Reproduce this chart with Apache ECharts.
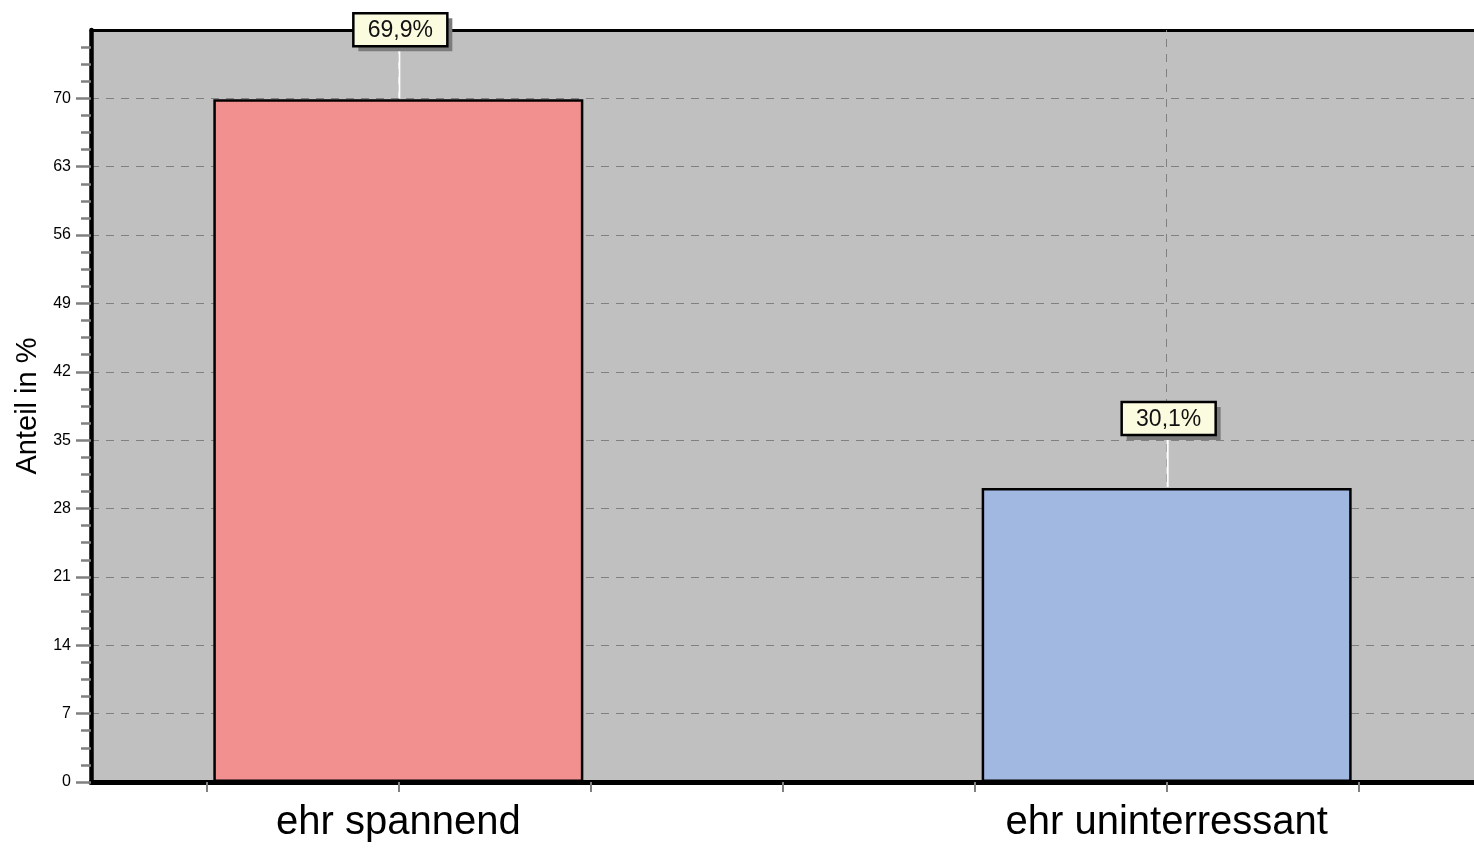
<!DOCTYPE html>
<html>
<head>
<meta charset="utf-8">
<script src="https://cdn.jsdelivr.net/npm/echarts@6/dist/echarts.min.js"></script>
<style>
html,body{margin:0;padding:0;background:#fff;}
#chart{width:1474px;height:848px;}
</style>
</head>
<body>
<div id="chart"></div>
<script>
const categories = ['ehr spannend', 'ehr uninterressant'];
const categoryPositions = [1, 2];
const values = [69.9, 30.1];
const valueLabels = ['69,9%', '30,1%'];
const barColors = ['#f29090', '#a1b8e0'];
const yMajorTicks = [0, 7, 14, 21, 28, 35, 42, 49, 56, 63, 70];
const yMinorTicks = [1.75, 3.5, 5.25, 8.75, 10.5, 12.25, 15.75, 17.5, 19.25, 22.75, 24.5, 26.25,
  29.75, 31.5, 33.25, 36.75, 38.5, 40.25, 43.75, 45.5, 47.25, 50.75, 52.5, 54.25,
  57.75, 59.5, 61.25, 64.75, 66.5, 68.25, 71.75, 73.5, 75.25];
const xTicks = [0.75, 1, 1.25, 1.5, 1.75, 2, 2.25];
const yAxisName = 'Anteil in %';

const FONT = 'Liberation Sans, Arial, sans-serif';
const chart = echarts.init(document.getElementById('chart'));

const option = {
  animation: false,
  textStyle: { fontFamily: FONT },
  grid: {
    left: 91, right: 0, top: 30, bottom: 66,
    show: true, backgroundColor: '#c0c0c0', borderWidth: 0
  },
  xAxis: [{
    type: 'value', min: 0.6, max: 2.4, position: 'bottom',
    axisLine: { show: true, onZero: false, lineStyle: { color: '#000', width: 5 } },
    axisTick: { show: true, customValues: xTicks, length: 10, lineStyle: { color: '#808080', width: 2 } },
    axisLabel: {
      show: true, customValues: categoryPositions, margin: 21,
      fontSize: 40, color: '#000', fontFamily: FONT,
      formatter: v => categories[categoryPositions.indexOf(Math.round(v))] || ''
    },
    splitLine: { show: false }
  }, {
    type: 'value', min: 0.6, max: 2.4, position: 'top',
    axisLine: { show: true, onZero: false, lineStyle: { color: '#000', width: 3 } },
    axisTick: { show: false }, axisLabel: { show: false }, splitLine: { show: false }
  }],
  yAxis: [{
    type: 'value', min: 0, max: 77, position: 'left',
    name: yAxisName, nameLocation: 'middle', nameGap: 40, nameRotate: 90,
    nameTextStyle: { fontSize: 29, color: '#000', fontFamily: FONT },
    axisLine: { show: true, onZero: false, lineStyle: { color: '#000', width: 4.5 } },
    axisTick: { show: true, customValues: yMajorTicks, length: 15, lineStyle: { color: '#808080', width: 2.5 } },
    axisLabel: { show: true, customValues: yMajorTicks, margin: 20, fontSize: 16, color: '#000', fontFamily: FONT },
    splitLine: { show: true, lineStyle: { color: '#808080', width: 1, type: [8, 7] } }
  }, {
    type: 'value', min: 0, max: 77, position: 'left',
    axisLine: { show: false },
    axisTick: { show: true, customValues: yMinorTicks, length: 10, lineStyle: { color: '#808080', width: 2.5 } },
    axisLabel: { show: false },
    splitLine: { show: false }
  }],
  series: [{
    type: 'line', xAxisIndex: 0, yAxisIndex: 0, data: [], z: 1, silent: true,
    markLine: {
      z: 1, silent: true, symbol: 'none', label: { show: false },
      lineStyle: { color: '#808080', width: 1, type: [8, 7] },
      data: categoryPositions.map(p => ({ xAxis: p }))
    }
  }, {
    type: 'bar', xAxisIndex: 0, yAxisIndex: 0, z: 2,
    barWidth: 370,
    data: values.map((v, i) => ({
      value: [categoryPositions[i], v],
      itemStyle: { color: barColors[i], borderColor: '#000', borderWidth: 2.5 }
    }))
  }, {
    type: 'custom', xAxisIndex: 0, yAxisIndex: 0, z: 5, clip: false,
    data: values.map((v, i) => [categoryPositions[i], v]),
    encode: { x: 0, y: 1 },
    renderItem: function (params, api) {
      const p = api.coord([api.value(0), api.value(1)]);
      const cx = p[0] + 2;
      const boxW = 94, boxH = 33;
      const boxBottom = p[1] - 53;
      const boxTop = boxBottom - boxH;
      return {
        type: 'group',
        children: [
          { type: 'line', shape: { x1: p[0] + 1, y1: p[1] - 1, x2: p[0] + 1, y2: boxBottom }, style: { stroke: '#ffffff', lineWidth: 2 } },
          { type: 'rect', shape: { x: cx - boxW / 2 + 5, y: boxTop + 5, width: boxW, height: boxH }, style: { fill: '#7c7c7c' } },
          { type: 'rect', shape: { x: cx - boxW / 2, y: boxTop, width: boxW, height: boxH }, style: { fill: '#fbfbe0', stroke: '#000', lineWidth: 2.5 } },
          { type: 'text', x: cx, y: boxTop + boxH / 2 + 1, style: { text: valueLabels[params.dataIndex], fill: '#111', font: '23px ' + FONT, align: 'center', verticalAlign: 'middle' } }
        ]
      };
    }
  }]
};
chart.setOption(option);
</script>
</body>
</html>
